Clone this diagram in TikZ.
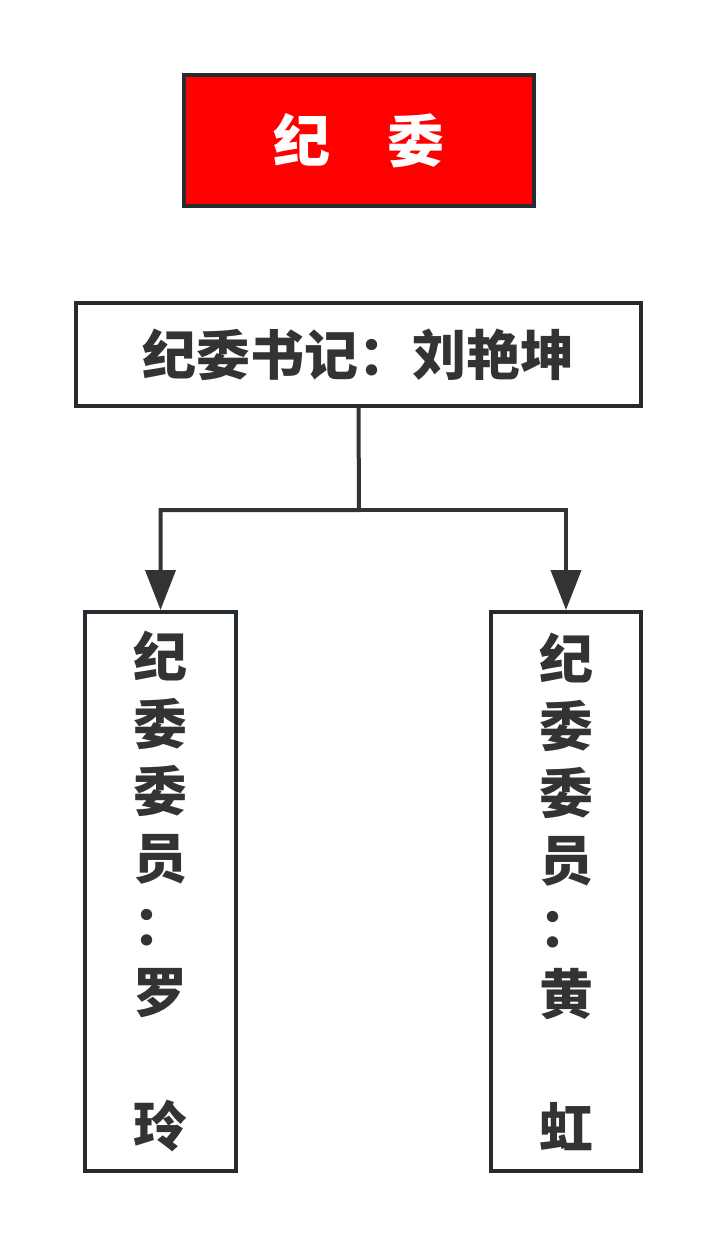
\documentclass[tikz,border=0pt]{standalone}
\usepackage{fontspec}
\newfontfamily\cjk{Noto Sans CJK SC}
\usetikzlibrary{arrows.meta}
\definecolor{rim}{HTML}{262B30}
\definecolor{ink}{HTML}{333333}
\definecolor{hong}{HTML}{FF0000}
\tikzset{
  kuang/.style={draw=rim, line width=4pt, inner sep=0pt, text=ink, align=center,
    font=\cjk\bfseries\fontsize{54}{67}\selectfont},
  xian/.style={draw=ink, line width=4pt, -{Triangle[length=40pt,width=30pt]}},
}
\begin{document}
\begin{tikzpicture}[x=1pt,y=-1pt]
\useasboundingbox (0,0) rectangle (717,1248);
% title
\node[kuang, fill=hong, text=white, minimum width=350pt, minimum height=131pt,
  font=\cjk\bfseries\fontsize{57}{57}\selectfont] (jiwei) at (359,140.5) {纪\hspace{1em}委};
% secretary
\node[kuang, minimum width=565pt, minimum height=103pt] (shuji) at (358.5,354.5) {纪委书记：刘艳坤};
% members
\node[kuang, minimum width=151pt, minimum height=559pt] (zuo) at (160.5,891.5)
  {纪\\委\\委\\员\\：\\罗\\\mbox{}\\玲};
\node[kuang, minimum width=150pt, minimum height=559pt] (you) at (566,891.5)
  {纪\\委\\委\\员\\：\\黄\\\mbox{}\\虹};
\coordinate (fen) at (359,510);
\draw[xian] (shuji.south) -- (fen) -| (zuo.north);
\draw[xian] (fen) -| (you.north);
\end{tikzpicture}
\end{document}
